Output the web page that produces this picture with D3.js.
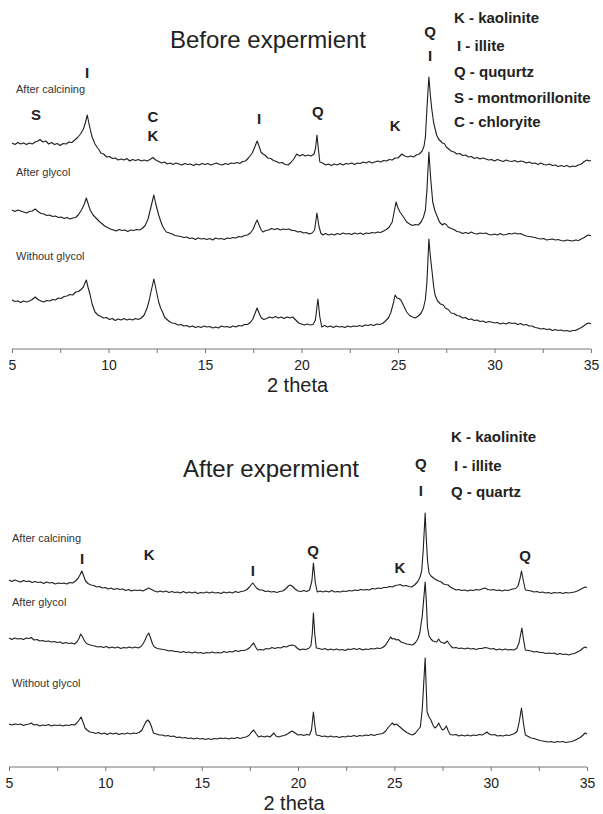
<!DOCTYPE html>
<html>
<head>
<meta charset="utf-8">
<script src="https://cdn.jsdelivr.net/npm/d3@7"></script>
<style>
  html, body { margin: 0; padding: 0; background: #fff; }
  svg { display: block; font-family: "Liberation Sans", Arial, sans-serif; }
</style>
</head>
<body>
<svg id="chart" width="603" height="814"></svg>
<script>
// 2-theta range and ticks
const thetaDomain = [5, 35];
const tickValues = [5, 7.5, 10, 12.5, 15, 17.5, 20, 22.5, 25, 27.5, 30, 32.5, 35];

// ---- Before experiment: [2 theta, intensity (a.u.)] ----
const beforeCalcining = [[5.0,25],[5.15,23.5],[5.3,25.5],[5.45,24],[5.6,25],[5.75,23.5],[5.9,25],[6.05,24],[6.2,26],[6.35,27],[6.45,28.5],[6.6,26],[6.75,27],[6.9,24],[7.05,25.5],[7.2,23.5],[7.35,24.5],[7.5,22.5],[7.65,24.5],[7.8,24],[7.95,26],[8.1,25.5],[8.25,28],[8.4,30.5],[8.55,34],[8.7,39],[8.8,45],[8.9,53],[8.97,46],[9.05,39],[9.15,31],[9.3,24],[9.4,21],[9.5,18.5],[9.6,15],[9.75,14],[9.9,11],[10.05,11.5],[10.2,9.5],[10.35,10],[10.5,8],[10.65,9],[10.8,8],[10.95,9.5],[11.1,7],[11.25,8.5],[11.4,7.5],[11.55,8.5],[11.7,7],[11.85,8],[12.0,7],[12.15,8.5],[12.3,10.5],[12.45,8],[12.6,6.5],[12.75,5],[12.9,6],[13.05,4],[13.2,5],[13.35,3.5],[13.5,5],[13.65,4],[13.8,3],[13.95,4.5],[14.1,3.5],[14.25,4],[14.4,2.5],[14.55,4],[14.7,3],[14.85,4.5],[15.0,3.5],[15.15,4.5],[15.3,3],[15.45,4],[15.6,5],[15.75,3.5],[15.9,3],[16.05,4.5],[16.2,3.5],[16.35,5],[16.5,4.5],[16.65,5.5],[16.8,4.5],[16.95,6.5],[17.1,7],[17.25,10],[17.45,15],[17.6,22],[17.7,27],[17.8,22],[17.9,16],[18.0,14],[18.1,13],[18.25,10],[18.4,9.5],[18.55,7.5],[18.7,6.5],[18.85,5],[19.0,5.5],[19.15,3.5],[19.3,3],[19.45,5.5],[19.6,9],[19.75,14],[19.9,12],[20.05,13.5],[20.2,12],[20.35,13],[20.5,12],[20.65,14],[20.73,20],[20.8,33],[20.88,18],[20.95,6],[21.1,5],[21.25,3],[21.4,4],[21.55,2.5],[21.7,4],[21.85,3],[22.0,4.5],[22.15,3],[22.3,4.5],[22.45,4],[22.6,5],[22.75,3.5],[22.9,5],[23.05,4.5],[23.2,6],[23.35,5],[23.5,6.5],[23.65,5],[23.8,6],[23.95,7],[24.1,6],[24.25,7.5],[24.4,7],[24.55,8.5],[24.7,8],[24.85,10],[25.0,10],[25.1,12],[25.2,14],[25.35,12],[25.5,11],[25.65,12],[25.8,11],[25.95,13],[26.1,14],[26.25,17],[26.35,22],[26.42,31],[26.5,60],[26.6,91],[26.68,72],[26.75,59],[26.85,45],[27.0,33],[27.1,29],[27.2,27],[27.3,25],[27.4,24.5],[27.5,21],[27.6,19.5],[27.75,17],[27.9,16],[28.05,14],[28.2,14.5],[28.35,12.5],[28.5,13],[28.65,11],[28.8,11.5],[28.95,9.5],[29.1,10.5],[29.25,9],[29.4,10],[29.55,9],[29.7,8],[29.85,8.5],[30.0,7],[30.15,8.5],[30.3,7.5],[30.45,6.5],[30.6,8],[30.75,7],[30.9,6.5],[31.05,7.5],[31.2,6],[31.35,7],[31.5,6.5],[31.65,5],[31.8,6],[31.95,4.5],[32.1,5],[32.25,3.5],[32.4,5],[32.55,3.5],[32.7,3],[32.85,4],[33.0,2.5],[33.15,3],[33.3,1.5],[33.45,2.5],[33.6,1.5],[33.75,2.5],[33.9,1],[34.05,2],[34.2,1.5],[34.35,3],[34.5,4],[34.65,6.5],[34.8,8],[34.9,7],[35.0,7.5]];

const beforeGlycol = [[5.0,32],[5.15,30.5],[5.3,32],[5.45,31],[5.6,30],[5.75,29],[5.9,30.5],[6.05,31],[6.2,33],[6.35,30.5],[6.5,28.5],[6.65,28],[6.8,26.5],[6.95,27],[7.1,25.5],[7.25,26],[7.4,24.5],[7.55,25],[7.7,23.5],[7.85,24.5],[8.0,23],[8.15,24],[8.3,24.5],[8.45,27.5],[8.6,32],[8.75,38],[8.85,44],[8.95,38],[9.05,32],[9.2,27],[9.35,24],[9.5,21],[9.65,18.5],[9.8,16],[9.95,14.5],[10.1,13],[10.25,12],[10.4,11],[10.55,12.5],[10.7,11.5],[10.85,12],[11.0,10.5],[11.15,12],[11.3,11.5],[11.45,12.5],[11.6,12],[11.75,13.5],[11.9,16.5],[12.05,23],[12.2,35],[12.35,47],[12.45,38],[12.6,27],[12.7,21],[12.8,16],[12.9,12.5],[13.0,10],[13.15,9],[13.3,8],[13.45,6.5],[13.6,6],[13.75,5.5],[13.9,4.5],[14.05,5],[14.2,3.5],[14.35,4],[14.5,2.5],[14.65,4],[14.8,3],[14.95,3.5],[15.1,2.5],[15.25,3.5],[15.4,2],[15.55,4],[15.7,3],[15.85,3.5],[16.0,2.5],[16.15,4],[16.3,3.5],[16.45,4.5],[16.6,4],[16.75,5.5],[16.9,5],[17.05,6.5],[17.2,7],[17.35,9],[17.5,13],[17.6,18],[17.7,22],[17.8,17],[17.9,12.5],[18.0,10],[18.15,11.5],[18.3,12],[18.45,13.5],[18.6,12.5],[18.75,13.5],[18.9,12],[19.05,13],[19.2,12.5],[19.35,13],[19.5,11.5],[19.65,11.5],[19.8,10],[19.95,10.5],[20.1,9],[20.25,9.5],[20.4,8],[20.55,9],[20.68,12],[20.8,29],[20.9,16],[21.0,9],[21.1,7],[21.25,8.5],[21.4,7],[21.55,8],[21.7,7],[21.85,8.5],[22.0,7.5],[22.15,9],[22.3,8],[22.45,8.5],[22.6,7.5],[22.75,9],[22.9,8],[23.05,9],[23.2,7.5],[23.35,9],[23.5,8.5],[23.65,9.5],[23.8,9],[23.95,10],[24.1,9.5],[24.25,11],[24.4,12.5],[24.55,15],[24.7,20],[24.8,30],[24.9,40],[25.0,34],[25.1,30],[25.25,26],[25.35,23],[25.45,20],[25.6,18],[25.75,16.5],[25.9,17.5],[26.05,17],[26.2,20],[26.32,25],[26.42,32],[26.5,52],[26.6,90],[26.7,62],[26.8,40],[26.9,32],[27.0,27],[27.15,20],[27.3,17],[27.4,18.5],[27.5,17.5],[27.6,15],[27.75,13.5],[27.9,12.5],[28.05,10.5],[28.2,10],[28.35,8.5],[28.5,9.5],[28.65,8.5],[28.8,10],[28.95,8.5],[29.1,8],[29.25,9],[29.4,8.5],[29.55,9],[29.7,7.5],[29.85,7],[30.0,8],[30.15,7],[30.3,8.5],[30.45,7],[30.6,7.5],[30.75,8.5],[30.9,8],[31.05,9],[31.2,8],[31.35,8.5],[31.5,7],[31.65,6],[31.8,5.5],[31.95,5],[32.1,4.5],[32.25,3.5],[32.4,3],[32.55,3.5],[32.7,2],[32.85,2.5],[33.0,3],[33.15,2],[33.3,2.5],[33.45,1.5],[33.6,1],[33.75,2],[33.9,1.5],[34.05,1],[34.2,2],[34.35,1.5],[34.5,3],[34.65,4.5],[34.8,6.5],[34.9,7],[35.0,6]];

const beforeWithout = [[5.0,32],[5.15,30.5],[5.3,31],[5.45,29.5],[5.6,31],[5.75,30],[5.9,31],[6.05,32.5],[6.2,35],[6.35,32.5],[6.5,31],[6.65,30],[6.8,31.5],[6.95,31],[7.1,32.5],[7.25,32],[7.4,34],[7.55,33.5],[7.7,35.5],[7.85,36],[8.0,37.5],[8.15,37],[8.3,40],[8.45,40.5],[8.6,43],[8.7,45],[8.78,49],[8.85,52],[8.95,44],[9.05,37],[9.15,28],[9.3,20],[9.45,17],[9.6,15.5],[9.75,14],[9.9,14.5],[10.05,12.5],[10.2,13.5],[10.35,11.5],[10.5,13],[10.65,12],[10.8,13.5],[10.95,12],[11.1,13],[11.25,12],[11.4,13.5],[11.55,12.5],[11.7,14],[11.85,17],[12.0,24],[12.1,31],[12.2,40],[12.35,53],[12.47,42],[12.6,30],[12.7,24],[12.8,20],[12.9,15],[13.0,13],[13.15,10.5],[13.3,9],[13.45,8.5],[13.6,7],[13.75,7.5],[13.9,6],[14.05,6.5],[14.2,5],[14.35,6],[14.5,4.5],[14.65,5.5],[14.8,4.5],[14.95,6],[15.1,5],[15.25,5.5],[15.4,4],[15.55,5],[15.7,4],[15.85,6],[16.0,5],[16.15,5.5],[16.3,4.5],[16.45,6],[16.6,5],[16.75,6.5],[16.9,6],[17.05,7.5],[17.2,7.5],[17.35,9.5],[17.48,13],[17.58,18],[17.7,24],[17.82,18],[17.92,14],[18.05,12.5],[18.2,13.5],[18.35,15],[18.5,14],[18.65,15.5],[18.8,14],[18.95,15],[19.1,13.5],[19.25,15],[19.4,14],[19.55,15],[19.7,12],[19.85,9],[20.0,8],[20.15,7],[20.3,8],[20.45,7],[20.6,7.5],[20.72,12],[20.85,33],[20.95,15],[21.05,5],[21.2,6.5],[21.35,5],[21.5,6],[21.65,4.5],[21.8,6],[21.95,5],[22.1,5.5],[22.25,4.5],[22.4,6],[22.55,5],[22.7,6],[22.85,5.5],[23.0,6.5],[23.15,5.5],[23.3,7],[23.45,6.5],[23.6,7.5],[23.75,6.5],[23.9,8],[24.05,7.5],[24.2,8.5],[24.35,11],[24.5,14],[24.62,19],[24.75,28],[24.85,37],[24.95,34],[25.05,33.5],[25.15,32],[25.3,26],[25.45,20],[25.6,16.5],[25.75,15],[25.9,14],[26.05,16],[26.2,19],[26.32,24],[26.42,33],[26.5,50],[26.6,93],[26.68,75],[26.75,63],[26.85,45],[26.92,37],[27.05,31],[27.2,28],[27.35,27],[27.45,24],[27.6,22.5],[27.75,19],[27.9,18.5],[28.05,16.5],[28.2,16],[28.35,14],[28.5,14.5],[28.65,12.5],[28.8,13],[28.95,11.5],[29.1,12],[29.25,10.5],[29.4,11],[29.55,9.5],[29.7,10.5],[29.85,10],[30.0,9],[30.15,9.5],[30.3,8],[30.45,9],[30.6,8],[30.75,9.5],[30.9,8.5],[31.05,9],[31.2,7.5],[31.35,8.5],[31.5,7],[31.65,7.5],[31.8,6],[31.95,6],[32.1,4.5],[32.25,4],[32.4,3],[32.55,3.5],[32.7,2.5],[32.85,3],[33.0,1.5],[33.15,2.5],[33.3,1.5],[33.45,2],[33.6,1],[33.75,1.5],[33.9,0.5],[34.05,1.5],[34.2,1.5],[34.35,3],[34.5,4.5],[34.65,6.5],[34.8,8.5],[34.9,9],[35.0,8]];

// ---- After experiment ----
const afterCalcining = [[5.0,15],[5.15,13.5],[5.3,15],[5.45,14],[5.6,13],[5.75,14.5],[5.9,13.5],[6.05,14],[6.2,12.5],[6.35,13.5],[6.5,12.5],[6.65,13],[6.8,11.5],[6.95,13],[7.1,12],[7.25,12.5],[7.4,11],[7.55,12],[7.7,11.5],[7.85,12],[8.0,11],[8.15,12.5],[8.3,12],[8.45,14],[8.58,16.5],[8.68,20],[8.78,24],[8.88,19],[8.97,14],[9.1,11.5],[9.25,10],[9.4,9.5],[9.55,8],[9.7,8.5],[9.85,7],[10.0,7.5],[10.15,6],[10.3,7],[10.45,5.5],[10.6,6.5],[10.75,5.5],[10.9,6],[11.05,4.5],[11.2,5.5],[11.35,4],[11.5,5],[11.65,4.5],[11.8,5],[11.95,4],[12.1,5.5],[12.25,7],[12.4,5.5],[12.55,4],[12.7,3],[12.85,4],[13.0,3],[13.15,4],[13.3,2.5],[13.45,3.5],[13.6,2.5],[13.75,3],[13.9,2],[14.05,3.5],[14.2,2],[14.35,3],[14.5,2],[14.65,3],[14.8,1.5],[14.95,2.5],[15.1,2],[15.25,3],[15.4,2],[15.55,3],[15.7,2],[15.85,2.5],[16.0,1.5],[16.15,3],[16.3,2],[16.45,3],[16.6,2],[16.75,3.5],[16.9,2.5],[17.05,3.5],[17.2,4],[17.35,5.5],[17.48,8],[17.58,10.5],[17.65,12],[17.75,9.5],[17.85,7],[18.0,5],[18.15,5],[18.3,3.5],[18.45,4],[18.6,3],[18.75,3.5],[18.9,2.5],[19.05,3.5],[19.2,4],[19.35,6],[19.5,9],[19.6,10],[19.72,8.5],[19.85,6],[20.0,4],[20.15,3.5],[20.3,4.5],[20.45,3.5],[20.6,5],[20.72,14],[20.8,32],[20.9,12],[21.0,3],[21.15,4],[21.3,3],[21.45,4],[21.6,3],[21.75,4.5],[21.9,3],[22.05,3.5],[22.2,3],[22.35,4],[22.5,3.5],[22.65,4.5],[22.8,4],[22.95,5],[23.1,4.5],[23.25,5.5],[23.4,5],[23.55,5.5],[23.7,5],[23.85,6.5],[24.0,6],[24.15,7],[24.3,6.5],[24.45,7.5],[24.6,7.5],[24.75,8.5],[24.9,8],[25.05,9.5],[25.2,10],[25.3,10.5],[25.45,9],[25.6,9.5],[25.75,8.5],[25.9,8],[26.05,10],[26.2,13],[26.32,17],[26.42,24],[26.5,45],[26.6,82],[26.65,60],[26.72,35],[26.8,22],[26.9,19],[27.0,17.5],[27.1,16],[27.2,15],[27.3,14],[27.45,13],[27.55,11],[27.65,10.5],[27.8,10],[27.9,8],[28.0,7],[28.1,6],[28.2,5],[28.35,5.5],[28.5,4.5],[28.65,5],[28.8,4],[28.95,5],[29.1,4.5],[29.25,5.5],[29.4,5],[29.55,6],[29.7,7],[29.85,5.5],[30.0,5],[30.15,5.5],[30.3,4.5],[30.45,5],[30.6,4],[30.75,5],[30.9,4.5],[31.05,5.5],[31.15,6],[31.3,6.5],[31.42,9],[31.52,16],[31.6,24],[31.7,14],[31.8,5],[31.95,4.5],[32.1,4],[32.25,3],[32.4,3.5],[32.55,2.5],[32.7,3],[32.85,2],[33.0,2.5],[33.15,1.5],[33.3,2.5],[33.45,2],[33.6,2.5],[33.75,1.5],[33.9,2.5],[34.05,2],[34.2,2.5],[34.35,3],[34.5,4],[34.65,5.5],[34.8,7],[34.9,8],[35.0,7.5]];

const afterGlycol = [[5.0,18],[5.15,16.5],[5.3,18],[5.45,17],[5.6,17.5],[5.75,16.5],[5.9,18],[6.05,17.5],[6.15,18.5],[6.3,16],[6.45,16.5],[6.6,15],[6.75,15.5],[6.9,14.5],[7.05,15],[7.2,14],[7.35,14.5],[7.5,13.5],[7.65,14],[7.8,12.5],[7.95,13.5],[8.1,12.5],[8.25,13],[8.4,12],[8.52,14],[8.62,17],[8.72,22],[8.82,19],[8.92,15],[9.02,12.5],[9.15,11.5],[9.3,10.5],[9.45,10],[9.6,9],[9.75,9.5],[9.9,8.5],[10.05,9.5],[10.2,8],[10.35,9],[10.5,8],[10.65,9],[10.8,7.5],[10.95,8.5],[11.1,8],[11.25,9],[11.4,8],[11.55,9],[11.7,8],[11.85,9.5],[11.95,12],[12.05,15.5],[12.15,20],[12.25,23],[12.35,18],[12.45,12],[12.55,9],[12.7,7.5],[12.85,7],[13.0,6.5],[13.15,6],[13.3,5],[13.45,5.5],[13.6,4.5],[13.75,4.5],[13.9,3.5],[14.05,4.5],[14.2,3.5],[14.35,4],[14.5,3],[14.65,4],[14.8,3],[14.95,3.5],[15.1,2.5],[15.25,3.5],[15.4,3],[15.55,4],[15.7,3],[15.85,3.5],[16.0,3],[16.15,4.5],[16.3,3.5],[16.45,4.5],[16.6,4],[16.75,5.5],[16.9,4.5],[17.05,5.5],[17.2,5.5],[17.35,6.5],[17.5,8.5],[17.6,11],[17.7,13],[17.8,9],[17.9,6],[18.05,6.5],[18.2,6],[18.35,7.5],[18.5,7],[18.65,8.5],[18.8,7.5],[18.95,8.5],[19.1,8],[19.25,9.5],[19.4,9],[19.55,10.5],[19.7,11],[19.85,10],[19.95,8],[20.1,6],[20.25,7],[20.4,6.5],[20.55,7.5],[20.67,10],[20.74,22],[20.8,43],[20.87,22],[20.95,8],[21.1,7.5],[21.25,6.5],[21.4,7.5],[21.55,6],[21.7,7],[21.85,6],[22.0,7],[22.15,6],[22.3,6.5],[22.45,5.5],[22.6,7],[22.75,6.5],[22.9,7.5],[23.05,6.5],[23.2,7.5],[23.35,6],[23.5,7],[23.65,6.5],[23.8,7.5],[23.95,7],[24.1,8],[24.25,7.5],[24.4,8.5],[24.55,11],[24.68,15],[24.8,19],[24.9,17],[25.0,17.5],[25.1,16],[25.2,16.5],[25.35,14],[25.5,13],[25.65,12],[25.8,11.5],[25.95,11],[26.1,13.5],[26.22,17],[26.32,23],[26.45,40],[26.6,74],[26.66,55],[26.72,29],[26.8,20],[26.9,17],[27.0,15],[27.1,14.5],[27.2,14],[27.3,17],[27.4,14],[27.5,13.5],[27.6,12.5],[27.75,15],[27.85,12],[27.95,9.5],[28.05,8],[28.2,8.5],[28.35,7.5],[28.5,8],[28.65,7],[28.8,8],[28.95,7],[29.1,7.5],[29.25,6.5],[29.4,7.5],[29.55,7.5],[29.7,8.5],[29.85,8],[30.0,7],[30.15,7.5],[30.3,6],[30.45,7],[30.6,6],[30.75,7],[30.9,6],[31.05,6.5],[31.2,6],[31.35,7.5],[31.47,13],[31.55,21],[31.62,28],[31.7,17],[31.8,6],[31.95,5.5],[32.1,5],[32.25,4],[32.4,4.5],[32.55,3.5],[32.7,3.5],[32.85,2.5],[33.0,3],[33.15,2.5],[33.3,3],[33.45,1.5],[33.6,2.5],[33.75,1.5],[33.9,2],[34.05,1],[34.2,2],[34.35,2.5],[34.5,4],[34.65,5.5],[34.8,8],[34.9,9],[35.0,8]];

const afterWithout = [[5.0,20],[5.15,19],[5.3,20],[5.45,19.5],[5.6,20],[5.75,18.5],[5.9,19.5],[6.05,20],[6.15,21],[6.3,19],[6.45,19.5],[6.6,18],[6.75,19],[6.9,18.5],[7.05,19.5],[7.2,18],[7.35,19],[7.5,18.5],[7.65,19],[7.8,18],[7.95,19],[8.1,18.5],[8.25,19.5],[8.4,19],[8.52,21],[8.64,24],[8.74,27],[8.84,22],[8.95,16],[9.05,14],[9.2,12],[9.35,11.5],[9.5,10.5],[9.65,11.5],[9.8,10],[9.95,11],[10.1,9.5],[10.25,11],[10.4,10],[10.55,11],[10.7,9.5],[10.85,10.5],[11.0,10],[11.15,11],[11.3,10],[11.45,11],[11.6,10.5],[11.75,11.5],[11.9,14],[12.0,18],[12.1,22],[12.2,24],[12.3,22],[12.4,17],[12.5,11],[12.65,10],[12.8,9],[12.95,9],[13.1,8],[13.25,8.5],[13.4,7.5],[13.55,8],[13.7,6.5],[13.85,7],[14.0,6],[14.15,6.5],[14.3,5.5],[14.45,6],[14.6,5],[14.75,6],[14.9,5],[15.05,5.5],[15.2,4.5],[15.35,5.5],[15.5,4.5],[15.65,5.5],[15.8,5],[15.95,6],[16.1,5.5],[16.25,6],[16.4,5],[16.55,6],[16.7,5.5],[16.85,6.5],[17.0,5.5],[17.15,6.5],[17.3,7],[17.45,8.5],[17.57,11.5],[17.7,14],[17.82,10.5],[17.95,7],[18.1,8],[18.25,7],[18.4,8],[18.55,7],[18.65,9],[18.75,11],[18.85,8],[19.0,7],[19.15,8],[19.3,8.5],[19.45,10],[19.6,12],[19.7,13],[19.85,11],[20.0,9],[20.15,9.5],[20.3,8.5],[20.45,9.5],[20.6,9],[20.7,14],[20.8,32],[20.88,18],[20.95,9],[21.1,8.5],[21.25,7.5],[21.4,8],[21.55,7],[21.7,8],[21.85,7],[22.0,7.5],[22.15,6.5],[22.3,7.5],[22.45,7],[22.6,8],[22.75,7.5],[22.9,8.5],[23.05,7.5],[23.2,8.5],[23.35,8],[23.5,9],[23.65,8.5],[23.8,9.5],[23.95,8.5],[24.1,9.5],[24.25,10],[24.4,10.5],[24.55,13],[24.68,16.5],[24.8,19],[24.9,21],[25.0,19],[25.1,20],[25.2,18.5],[25.35,16],[25.5,13.5],[25.65,11.5],[25.8,10],[25.95,9],[26.1,11],[26.22,14],[26.35,17],[26.45,35],[26.6,86],[26.65,60],[26.7,32],[26.8,27],[26.9,24],[27.0,19],[27.1,16],[27.2,17.5],[27.3,21],[27.4,17],[27.5,14],[27.6,15],[27.7,18],[27.8,13],[27.9,9.5],[28.05,9],[28.2,9.5],[28.35,8],[28.5,9],[28.65,8],[28.8,9],[28.95,8],[29.1,9],[29.25,8.5],[29.4,9.5],[29.55,9],[29.7,10.5],[29.8,12],[29.92,10],[30.05,9],[30.2,9.5],[30.35,8],[30.5,8.5],[30.65,8],[30.8,9],[30.95,8.5],[31.1,9.5],[31.25,10.5],[31.38,13],[31.48,22],[31.6,36],[31.7,21],[31.8,9],[31.95,7.5],[32.1,6],[32.25,5.5],[32.4,4.5],[32.55,3.5],[32.7,3],[32.85,2.5],[33.0,2],[33.15,2.5],[33.3,1.5],[33.45,2.5],[33.6,2],[33.75,2.5],[33.9,1.5],[34.05,2],[34.2,2.5],[34.35,3.5],[34.5,5],[34.65,6.5],[34.8,9],[34.9,11],[35.0,10]];

const seriesNames = ['After calcining', 'After glycol', 'Without glycol'];
const beforeOffsets = [179, 105, 15];
const afterOffsets = [170, 109, 21];

const beforeLegend = ['K - kaolinite', 'I - illite', 'Q - ququrtz', 'S - montmorillonite', 'C - chloryite'];
const afterLegend = ['K - kaolinite', 'I - illite', 'Q - quartz'];

// peak letters: mineral, 2-theta position, baseline y (px)
const beforePeaks = [
  ['S', 6.24, 120], ['I', 8.89, 78], ['C', 12.3, 122], ['K', 12.3, 141], ['I', 17.8, 124],
  ['Q', 20.85, 117], ['K', 24.85, 131], ['Q', 26.66, 37], ['I', 26.66, 61],
];
const afterPeaks = [
  ['I', 8.79, 564], ['K', 12.27, 560], ['I', 17.66, 576], ['Q', 20.78, 556], ['K', 25.29, 573],
  ['Q', 26.38, 469], ['I', 26.38, 496], ['Q', 31.78, 561],
];

const svg = d3.select('#chart');
const ink = '#1e1e1e';

function drawPanel(cfg) {
  const x = d3.scaleLinear().domain(thetaDomain).range(cfg.xRange);
  const y = d3.scaleLinear().domain([0, 330]).range([cfg.axisY - 2, cfg.axisY - 332]);
  const g = svg.append('g');

  const line = d3.line()
    .x(d => x(d[0]))
    .y(d => y(d[1]));

  cfg.traces.forEach((tr, i) => {
    const off = cfg.offsets[i];
    g.append('path')
      .datum(tr.map(d => [d[0], d[1] + off]))
      .attr('fill', 'none')
      .attr('stroke', ink)
      .attr('stroke-width', 1.1)
      .attr('stroke-linejoin', 'round')
      .attr('d', line);
  });

  // axis
  const axis = g.append('g')
    .attr('transform', `translate(0,${cfg.axisY})`)
    .call(d3.axisBottom(x)
      .tickValues(tickValues)
      .tickSize(4)
      .tickPadding(7)
      .tickFormat(d => (d % 5 === 0 ? d : '')));
  axis.select('.domain').attr('stroke', '#777').attr('d', `M${cfg.xRange[0]},0H${cfg.xRange[1]}`);
  axis.selectAll('.tick line').attr('stroke', '#777');
  axis.selectAll('.tick text')
    .attr('fill', '#222')
    .style('font-size', '14px')
    .style('font-family', '"Liberation Sans", Arial, sans-serif');

  g.append('text')
    .attr('x', (cfg.xRange[0] + cfg.xRange[1]) / 2 - 4)
    .attr('y', cfg.axisY + 43)
    .attr('text-anchor', 'middle')
    .attr('fill', '#222')
    .style('font-size', '20px')
    .text('2 theta');

  g.append('text')
    .attr('x', cfg.titleX)
    .attr('y', cfg.titleY)
    .attr('text-anchor', 'middle')
    .attr('fill', '#222')
    .style('font-size', '24px')
    .text(cfg.title);

  seriesNames.forEach((name, i) => {
    g.append('text')
      .attr('x', cfg.labelX)
      .attr('y', cfg.labelY[i])
      .attr('fill', '#333')
      .style('font-size', '11px')
      .text(name);
  });

  cfg.peaks.forEach(p => {
    g.append('text')
      .attr('x', x(p[1]))
      .attr('y', p[2])
      .attr('text-anchor', 'middle')
      .attr('fill', '#222')
      .style('font-size', '15px')
      .style('font-weight', 'bold')
      .text(p[0]);
  });

  cfg.legend.forEach((t, i) => {
    g.append('text')
      .attr('x', cfg.legendX + (t.startsWith('I') ? 3 : 0))
      .attr('y', cfg.legendY[i])
      .attr('fill', '#222')
      .style('font-size', '15px')
      .style('font-weight', 'bold')
      .text(t);
  });
}

drawPanel({
  title: 'Before expermient', titleX: 268, titleY: 48,
  xRange: [12, 591], axisY: 349,
  traces: [beforeCalcining, beforeGlycol, beforeWithout], offsets: beforeOffsets,
  labelX: 16, labelY: [93, 176, 260],
  peaks: beforePeaks,
  legend: beforeLegend, legendX: 454, legendY: [23, 51, 77, 103, 127],
});

drawPanel({
  title: 'After expermient', titleX: 271, titleY: 477,
  xRange: [9, 587], axisY: 767,
  traces: [afterCalcining, afterGlycol, afterWithout], offsets: afterOffsets,
  labelX: 12, labelY: [542, 606, 687],
  peaks: afterPeaks,
  legend: afterLegend, legendX: 451, legendY: [442, 471, 497],
});
</script>
</body>
</html>
